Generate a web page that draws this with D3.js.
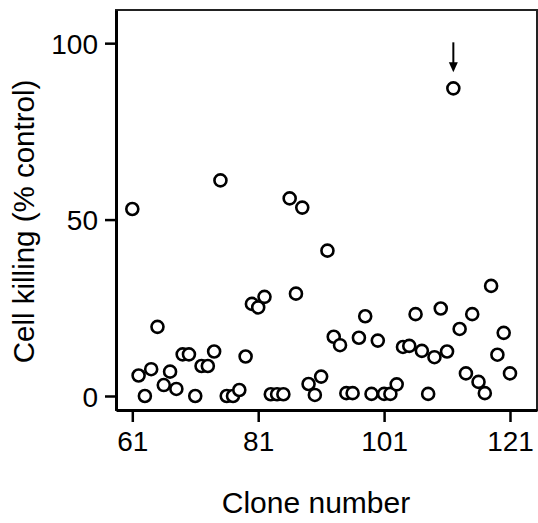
<!DOCTYPE html>
<html>
<head>
<meta charset="utf-8">
<script src="https://cdn.jsdelivr.net/npm/d3@7"></script>
<style>
  body { margin: 0; background: #fff; }
  text { font-family: "Liberation Sans", Arial, Helvetica, sans-serif; fill: #000; }
</style>
</head>
<body>
<div id="container"></div>
<script>
/* DATA */
const clones = [61, 62, 63, 64, 65, 66, 67, 68, 69, 70, 71, 72, 73, 74, 75, 76, 77, 78, 79, 80,
  81, 82, 83, 84, 85, 86, 87, 88, 89, 90, 91, 92, 93, 94, 95, 96, 97, 98, 99, 100,
  101, 102, 103, 104, 105, 106, 107, 108, 109, 110, 111, 112, 113, 114, 115, 116, 117, 118, 119, 120, 121];
const killing = [53.0, 5.8, 0, 7.6, 19.6, 3.1, 6.9, 2.0, 11.8, 11.8, 0, 8.5, 8.5, 12.6, 61.1, 0, 0, 1.7, 11.2, 26.1,
  25.1, 28.1, 0.5, 0.5, 0.5, 56.0, 29.0, 53.4, 3.4, 0.3, 5.5, 41.2, 16.8, 14.4, 0.8, 0.8, 16.5, 22.6, 0.6, 15.7,
  0.6, 0.6, 3.3, 13.9, 14.2, 23.2, 12.8, 0.6, 11.0, 24.8, 12.6, 87.2, 19.0, 6.4, 23.2, 4.0, 0.8, 31.2, 11.7, 17.9, 6.4];
const xTicks = [61, 81, 101, 121];
const yTicks = [0, 50, 100];
const highlight = 112; // clone marked by the arrow

/* CONSTANTS AND GLOBALS */
const W = 538, H = 523;
const margin = {top: 10, right: 1, bottom: 113, left: 116},
    width = W - margin.left - margin.right,
    height = H - margin.top - margin.bottom;

const data = clones.map((c, i) => ({clone: c, value: killing[i]}));

/* X AND Y SCALES */
const x = d3.scaleLinear().domain([58.41, 125.29]).range([0, width]);
const y = d3.scaleLinear().domain([-3.97, 109.4]).range([height, 0]);

const svg = d3.select("#container").append("svg")
    .attr("width", W)
    .attr("height", H)
  .append("g")
    .attr("transform", "translate(" + margin.left + "," + margin.top + ")");

/* FRAME */
svg.append("rect")
    .attr("width", width)
    .attr("height", height)
    .attr("fill", "none")
    .attr("stroke", "#222")
    .attr("stroke-width", 2);

/* X AXIS */
const xAxis = svg.append("g")
    .attr("transform", "translate(0," + height + ")")
    .call(d3.axisBottom(x).tickValues(xTicks).tickSize(12).tickPadding(9).tickSizeOuter(0));

/* Y AXIS */
const yAxis = svg.append("g")
    .call(d3.axisLeft(y).tickValues(yTicks).tickSize(11).tickPadding(7).tickSizeOuter(0));

[xAxis, yAxis].forEach(g => {
  g.select(".domain").attr("stroke-width", 3);
  g.selectAll(".tick line").attr("stroke-width", 2.5);
  g.selectAll(".tick text")
      .style("font-size", "28px")
      .style("font-family", "'Liberation Sans', Arial, sans-serif")
      .attr("fill", "#000");
});
yAxis.selectAll(".tick text").attr("dy", "0.36em");

/* POINTS */
svg.append("g")
  .selectAll("circle")
  .data(data)
  .join("circle")
    .attr("cx", d => x(d.clone))
    .attr("cy", d => y(d.value))
    .attr("r", 6)
    .attr("fill", "#fff")
    .attr("stroke", "#000")
    .attr("stroke-width", 2.6);

/* ARROW ON THE HIGHLIGHTED CLONE */
const hit = data.find(d => d.clone === highlight);
const ax = x(hit.clone), tip = y(hit.value) - 16;
svg.append("line")
    .attr("x1", ax).attr("x2", ax)
    .attr("y1", tip - 30).attr("y2", tip - 6)
    .attr("stroke", "#000")
    .attr("stroke-width", 2);
svg.append("path")
    .attr("d", "M" + (ax - 4.5) + "," + (tip - 10) + "L" + (ax + 4.5) + "," + (tip - 10) + "L" + ax + "," + tip + "Z")
    .attr("fill", "#000");

/* AXIS LABELS */
svg.append("text")
    .attr("x", 316 - margin.left)
    .attr("y", height + 103)
    .style("text-anchor", "middle")
    .style("font-size", "30px")
    .text("Clone number");

svg.append("text")
    .attr("transform", "rotate(-90)")
    .attr("x", -(221.5 - margin.top))
    .attr("y", 34 - margin.left)
    .style("text-anchor", "middle")
    .style("font-size", "29.5px")
    .text("Cell killing (% control)");
</script>
</body>
</html>
